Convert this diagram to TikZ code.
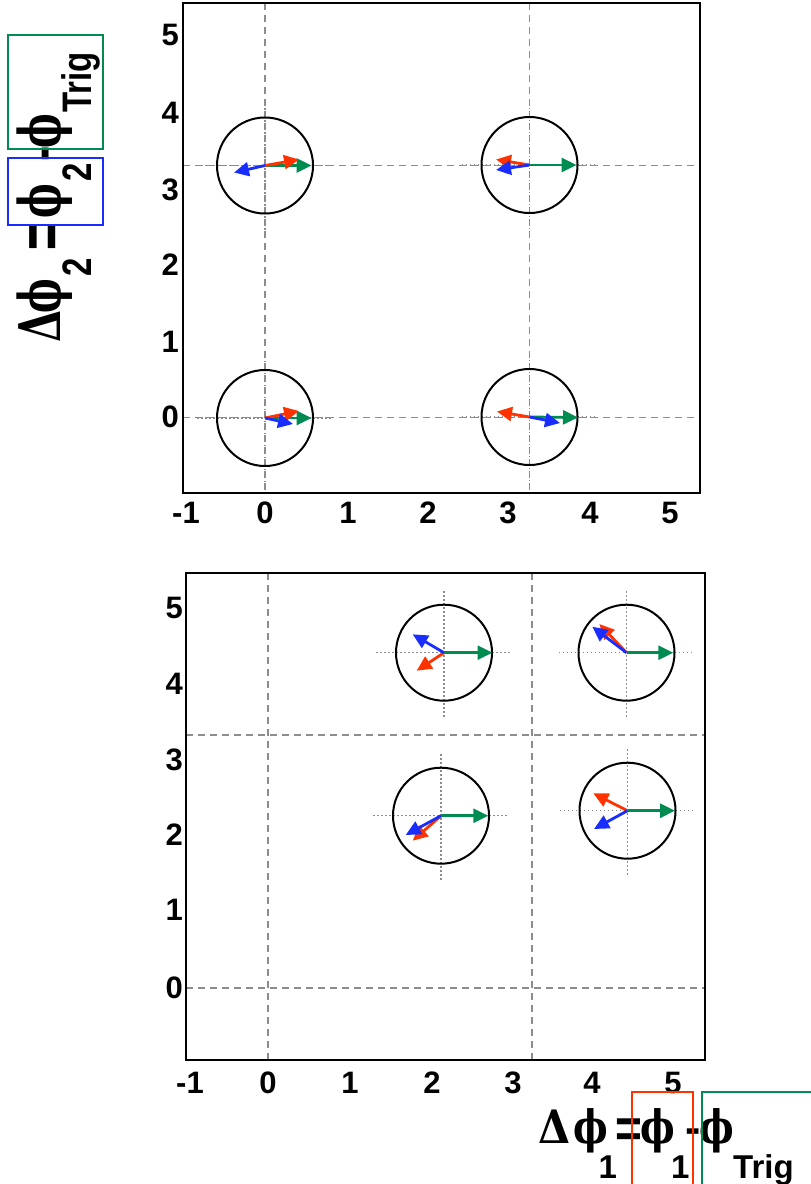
\documentclass[tikz,border=0pt]{standalone}
\usepackage{graphicx}
\usepackage{fontspec}
\setmainfont{Liberation Sans}
\newfontfamily\gk{DejaVu Serif}
\usetikzlibrary{arrows.meta}
\definecolor{cgreen}{RGB}{0,140,80}
\definecolor{cred}{RGB}{255,50,0}
\definecolor{cblue}{RGB}{25,45,255}
\definecolor{lgray}{RGB}{140,140,140}
\newcommand{\cbox}[1]{\makebox[0pt][c]{#1}}
\newcommand{\sbx}[2]{\raisebox{-#1}{\fontsize{33}{33}\selectfont\bfseries #2}}
\newcommand{\gD}{{\gk\bfseries\scalebox{0.9}[1]{Δ}}}
\newcommand{\gP}{{\gk\bfseries\scalebox{0.8}[1]{ϕ}}}
\newcommand{\eqs}{\raisebox{-4pt}{\bfseries\scalebox{1}[1.2]{=}}}
\newcommand{\dsh}{{\bfseries -}}
\newcommand{\arrcell}[9]{%
  \coordinate (#1) at (#2,#3);
  \draw[cross] ([xshift=-68pt]#1) -- ([xshift=68pt]#1);
  \draw[cross] ([yshift=-64pt]#1) -- ([yshift=64pt]#1);
  \draw[ring] (#1) circle[radius=48];
  \coordinate (#1g) at (#4,#5);
  \coordinate (#1r) at (#6,#7);
  \coordinate (#1b) at (#8,#9);
  \draw[vec,cgreen] (#1) -- (#1g);
  \draw[vec,cred] (#1) -- (#1r);
  \draw[vec,cblue] (#1) -- (#1b);
}
\begin{document}
\begin{tikzpicture}[x=1pt,y=-1pt,
  frame/.style={draw=black,line width=2.2pt},
  grid/.style={lgray,line width=1.3pt,dash pattern=on 7pt off 5pt},
  cross/.style={lgray,line width=1.3pt,dash pattern=on 1.5pt off 2.5pt},
  ring/.style={black,line width=2pt},
  vec/.style={line width=2.8pt,-{Triangle[length=15pt,width=14pt]}},
  tick/.style={font=\fontsize{31}{31}\selectfont\bfseries,inner sep=0pt},
  hbox/.style={line width=1.8pt}]
\useasboundingbox (0,0) rectangle (811,1184);
\clip (0,0) rectangle (811,1184);
% ---------- top plot ----------
\draw[grid] (265,3) -- (265,493);
\draw[grid] (529.5,3) -- (529.5,493);
\draw[grid] (183,165.5) -- (700,165.5);
\draw[grid] (183,417.5) -- (700,417.5);
\arrcell{A}{265}{165.5}{311.5}{165.5}{299}{159.5}{234}{172.5}
\arrcell{B}{529.5}{165}{576.5}{165}{496}{159.5}{496}{170}
\arrcell{C}{265}{418}{311.5}{418}{299}{411}{293}{424}
\arrcell{D}{529.5}{417}{578}{417.5}{497}{411.5}{560}{423}
\draw[frame] (183,3) rectangle (700,493);
\foreach \t/\x in {-1/186,0/265,1/348,2/428,3/508,4/590,5/670}
  \node[tick] (tx\t) at (\x,513) {\t};
\foreach \t/\y in {5/35,4/113,3/190,2/265,1/342,0/417}
  \node[tick,anchor=east] (ty\t) at (179,\y) {\t};
% ---------- bottom plot ----------
\draw[grid] (268,573) -- (268,1060);
\draw[grid] (532,573) -- (532,1060);
\draw[grid] (186,735) -- (705,735);
\draw[grid] (186,988) -- (705,988);
\arrcell{E}{444}{652.7}{492.5}{652.7}{416.7}{670.7}{412.7}{634.3}
\arrcell{F}{626.5}{652.7}{673.3}{652.7}{599.3}{624}{592.3}{626.7}
\arrcell{G}{441}{815.7}{488.3}{815.7}{412.7}{840.7}{405.7}{835}
\arrcell{H}{627.5}{810.7}{675}{810.7}{593.3}{793.3}{594}{829}
\draw[frame] (186,573) rectangle (705,1060);
\foreach \t/\x in {-1/190,0/268,1/350,2/432,3/513,4/592,5/673}
  \node[tick] (bx\t) at (\x,1083) {\t};
\foreach \t/\y in {5/608,4/684,3/760,2/835,1/910,0/988}
  \node[tick,anchor=east] (by\t) at (183,\y) {\t};
% ---------- axis titles ----------
\node[inner sep=0pt,anchor=base west,font=\fontsize{46}{46}\selectfont] (xtitle) at (538,1143) {\hspace*{16pt}\cbox{\gD}\hspace{36.5pt}\cbox{\gP}\hspace{17pt}\cbox{\sbx{35pt}{1}}\hspace{21.5pt}\cbox{\eqs}\hspace{28.5pt}\cbox{\gP}\hspace{22.5pt}\cbox{\sbx{35pt}{1}}\hspace{12.5pt}\cbox{\dsh}\hspace{24pt}\cbox{\gP}\hspace{16.5pt}\rlap{\sbx{35pt}{Trig}}\hspace{64pt}};
\node[inner sep=0pt,anchor=base west,rotate=90,font=\fontsize{46}{46}\selectfont] (ytitle) at (60,342) {\scalebox{1}[1.25]{\hspace*{15pt}\cbox{\gD}\hspace{30.5pt}\cbox{\gP}\hspace{28.5pt}\cbox{\sbx{25pt}{2}}\hspace{31pt}\cbox{\eqs}\hspace{36pt}\cbox{\gP}\hspace{28.5pt}\cbox{\sbx{25pt}{2}}\hspace{18.5pt}\cbox{\dsh}\hspace{23pt}\cbox{\gP}\hspace{18pt}\rlap{\sbx{25pt}{Trig}}\hspace{70pt}}};
\draw[hbox,cred] (631.7,1091.7) rectangle (692.7,1190);
\draw[hbox,cgreen] (701.7,1091.7) rectangle (820,1190);
\draw[hbox,cgreen] (8.3,35) rectangle (102.7,149);
\draw[hbox,cblue] (8.3,158.3) rectangle (102.7,225.3);
\end{tikzpicture}
\end{document}
